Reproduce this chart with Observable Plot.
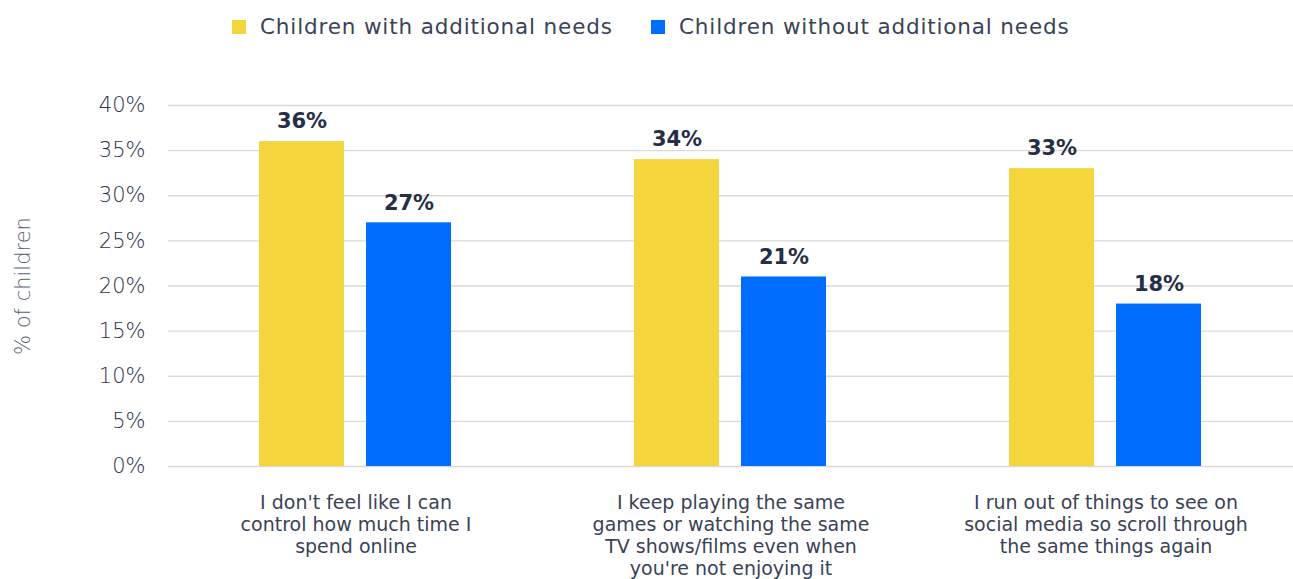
<!DOCTYPE html>
<html>
<head>
<meta charset="utf-8">
<script src="https://cdn.jsdelivr.net/npm/d3@7"></script>
<script src="https://cdn.jsdelivr.net/npm/@observablehq/plot@0.6"></script>
<style>
  html, body { margin: 0; padding: 0; background: #fff; }
  body { width: 1293px; height: 579px; overflow: hidden; font-family: "DejaVu Sans", sans-serif; }
  #legend { position: relative; height: 55px; }
  .item { position: absolute; top: 14px; display: flex; align-items: center; font-size: 21.5px; color: #3a4256; letter-spacing: 0.85px; }
  .sw { width: 14px; height: 14px; margin-right: 14px; }
  #chart svg { display: block; }
</style>
</head>
<body>
<div id="legend"></div>
<div id="chart"></div>
<script>
const categories = [
  "I don't feel like I can control how much time I spend online",
  "I keep playing the same games or watching the same TV shows/films even when you're not enjoying it",
  "I run out of things to see on social media so scroll through the same things again"
];
const tickLabels = [
  "I don't feel like I can\ncontrol how much time I\nspend online",
  "I keep playing the same\ngames or watching the same\nTV shows/films even when\nyou're not enjoying it",
  "I run out of things to see on\nsocial media so scroll through\nthe same things again"
];
const seriesNames = ["Children with additional needs", "Children without additional needs"];
const withNeeds = [36, 34, 33];
const withoutNeeds = [27, 21, 18];
const colors = ["#F4D53B", "#006DFF"];
const yTicks = [0, 5, 10, 15, 20, 25, 30, 35, 40];

const data = [];
categories.forEach((c, i) => {
  data.push({category: c, series: seriesNames[0], value: withNeeds[i]});
  data.push({category: c, series: seriesNames[1], value: withoutNeeds[i]});
});

// legend
const legend = document.getElementById("legend");
const lx = [232, 651];
seriesNames.forEach((s, i) => {
  const d = document.createElement("div");
  d.className = "item";
  d.style.left = lx[i] + "px";
  d.innerHTML = `<div class="sw" style="background:${colors[i]}"></div><span>${s}</span>`;
  legend.appendChild(d);
});

const labelMap = new Map(categories.map((c, i) => [c, tickLabels[i]]));

const chart = Plot.plot({
  width: 1293,
  height: 524,
  marginLeft: 168,
  marginRight: 0,
  marginTop: 50,
  marginBottom: 113,
  style: {fontFamily: "DejaVu Sans, sans-serif", background: "#fff"},
  fx: {domain: categories, padding: 0, label: null},
  x: {domain: seriesNames, paddingInner: 0.2056, paddingOuter: 0.855, axis: null},
  y: {domain: [0, 40], label: null},
  color: {domain: seriesNames, range: colors},
  marks: [
    Plot.gridY(yTicks, {stroke: "#d9d9d9", strokeOpacity: 1, strokeWidth: 1.3}),
    Plot.axisY({ticks: yTicks, tickSize: 0, tickPadding: 23, tickFormat: d => d + "%",
      fontSize: 21, fill: "#2c3346", fontWeight: 300, letterSpacing: 0.8, label: null}),
    Plot.text(["% of children"], {frameAnchor: "left", facetAnchor: "left", dx: -145, rotate: -90,
      textAnchor: "middle", fontSize: 21, fill: "#5c6478", fontWeight: 300, letterSpacing: 0.6}),
    Plot.axisFx({tickSize: 0, tickPadding: 27, tickFormat: d => labelMap.get(d),
      fontSize: 19, fill: "#3a4256", lineHeight: 1.158, letterSpacing: 0.1,
      textAnchor: "middle", label: null, anchor: "bottom"}),
    Plot.barY(data, {fx: "category", x: "series", y: "value", fill: "series"}),
    Plot.text(data, {fx: "category", x: "series", y: "value", text: d => d.value + "%",
      dy: -20, fontSize: 21, fontWeight: "bold", fill: "#262e45"})
  ]
});
document.getElementById("chart").appendChild(chart);
</script>
</body>
</html>
